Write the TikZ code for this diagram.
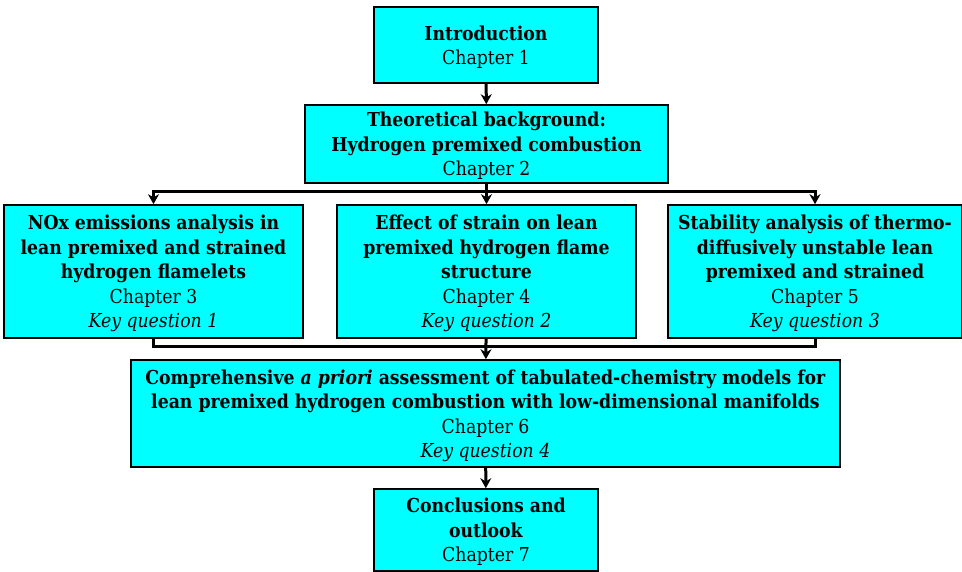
\documentclass[tikz,border=0pt]{standalone}
\usepackage{fontspec}
\setmainfont{DejaVu Serif Condensed}
\usetikzlibrary{arrows.meta}
\definecolor{boxcyan}{RGB}{0,255,255}
\tikzset{
  chapbox/.style={draw, line width=1.6pt, fill=boxcyan, align=center, inner sep=0pt,
    text depth=0pt, font=\fontsize{19.2}{24.5}\selectfont},
  link/.style={line width=3pt},
  arr/.style={link, -{Stealth[length=10pt,width=11pt]}},
}
\begin{document}
\begin{tikzpicture}[x=1pt,y=-1pt]
  \useasboundingbox (0,0) rectangle (962,571);
  \node[chapbox, minimum width=224pt, minimum height=76pt] (intro) at (486,45)
    {\textbf{Introduction}\\Chapter 1};
  \node[chapbox, minimum width=363pt, minimum height=78pt] (theory) at (486.5,144)
    {\textbf{Theoretical background:}\\\textbf{Hydrogen premixed combustion}\\Chapter 2};
  \node[chapbox, minimum width=299pt, minimum height=133pt] (ch3) at (153.5,271.5)
    {\textbf{NOx emissions analysis in}\\\textbf{lean premixed and strained}\\\textbf{hydrogen flamelets}\\Chapter 3\\\textit{Key question 1}};
  \node[chapbox, minimum width=299pt, minimum height=133pt] (ch4) at (486.5,271.5)
    {\textbf{Effect of strain on lean}\\\textbf{premixed hydrogen flame}\\\textbf{structure}\\Chapter 4\\\textit{Key question 2}};
  \node[chapbox, minimum width=294pt, minimum height=133pt] (ch5) at (815,271.5)
    {\textbf{Stability analysis of thermo-}\\\textbf{diffusively unstable lean}\\\textbf{premixed and strained}\\Chapter 5\\\textit{Key question 3}};
  \node[chapbox, minimum width=709pt, minimum height=107pt] (ch6) at (485.5,413.5)
    {\textbf{Comprehensive \textit{a priori} assessment of tabulated-chemistry models for}\\\textbf{lean premixed hydrogen combustion with low-dimensional manifolds}\\Chapter 6\\\textit{Key question 4}};
  \node[chapbox, minimum width=224pt, minimum height=82pt] (concl) at (486,530)
    {\textbf{Conclusions and}\\\textbf{outlook}\\Chapter 7};
  % links
  \draw[arr] (intro) -- (theory);
  \draw[arr] (theory.south) -- ++(0,8) -| (ch3.north);
  \draw[arr] (theory.south) -- ++(0,8) -| (ch5.north);
  \draw[arr] (theory) -- (ch4);
  \draw[link] (ch3.south) -- ++(0,8) -| (ch5.south);
  \draw[arr] (ch4) -- (ch6);
  \draw[arr] (ch6) -- (concl);
\end{tikzpicture}
\end{document}
